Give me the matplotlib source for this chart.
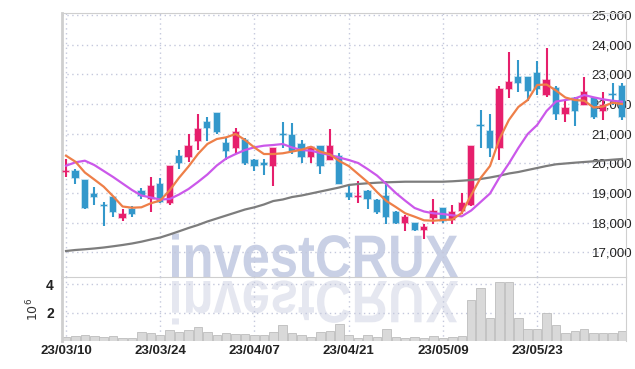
import matplotlib
matplotlib.use("Agg")
import matplotlib.pyplot as plt
import numpy as np
import pandas as pd
from matplotlib.textpath import TextPath
from matplotlib.font_manager import FontProperties
from matplotlib.patches import PathPatch
from matplotlib.transforms import Affine2D, IdentityTransform

# KRX trading days, 2023-03-10 .. 2023-06-07
holidays = ["2023-05-01", "2023-05-05", "2023-05-29", "2023-06-06"]
dates = pd.bdate_range("2023-03-10", "2023-06-07", freq="C", holidays=holidays)

opens = [19700, 19750, 19450, 18950, 18600, 18850, 18150, 18450, 19050, 18800,
         19300, 18650, 20250, 20200, 20750, 21400, 21700, 20700, 20500, 20800,
         20100, 20000, 19900, 21000, 20950, 20650, 20200, 20600, 20100, 20250,
         19000, 18850, 19050, 18750, 18900, 18350, 18000, 18000, 17750, 18150,
         18500, 18100, 18400, 18600, 21300, 21100, 20500, 22500, 22900, 22900,
         23050, 22300, 22550, 21650, 22200, 21950, 22200, 21750, 22350, 22600]
highs = [20150, 19800, 19450, 19200, 18700, 18850, 18450, 18550, 19150, 19550,
         19500, 19900, 20450, 21000, 21650, 21550, 21700, 20850, 21200, 20850,
         20150, 20150, 20500, 21400, 21350, 20800, 20600, 20600, 21150, 20350,
         19300, 19400, 19100, 18800, 19400, 18400, 18250, 18000, 17950, 18800,
         18500, 18600, 19000, 20600, 21800, 21650, 22600, 23750, 23500, 22900,
         23450, 23900, 22600, 22150, 22250, 22900, 22250, 22400, 22700, 22700]
lows = [19550, 19300, 18450, 18600, 17900, 18200, 18050, 18200, 18800, 18350,
        18650, 18600, 19800, 20050, 20450, 20750, 21000, 20100, 20350, 19950,
        19750, 19600, 19250, 20500, 20300, 20000, 20000, 19650, 20100, 19300,
        18750, 18650, 18450, 18300, 17950, 17950, 17700, 17700, 17450, 17950,
        18000, 17950, 18300, 18550, 20500, 20200, 20100, 22200, 22400, 22100,
        22300, 22250, 21450, 21400, 21250, 21950, 21500, 21450, 21950, 21450]
closes = [19750, 19500, 18500, 18850, 18550, 18350, 18300, 18300, 18900, 19250,
          18700, 19900, 20000, 20600, 21150, 21200, 21050, 20400, 21050, 20000,
          19900, 19950, 20500, 20950, 20400, 20200, 20550, 19900, 20600, 19300,
          18850, 18900, 18800, 18350, 18200, 18000, 18200, 17750, 17850, 18400,
          18050, 18350, 18650, 20600, 21250, 20500, 22500, 22750, 22700, 22450,
          22500, 22800, 21650, 21850, 21750, 22400, 21550, 21950, 22300, 21550]
volume = [260000, 330000, 400000, 330000, 260000, 330000, 190000, 190000, 610000, 560000,
          400000, 750000, 610000, 750000, 1010000, 610000, 400000, 560000, 490000, 490000,
          400000, 400000, 610000, 1100000, 540000, 400000, 260000, 610000, 680000, 1180000,
          400000, 190000, 400000, 260000, 820000, 260000, 190000, 260000, 190000, 330000,
          190000, 260000, 330000, 2870000, 3720000, 1600000, 4140000, 4200000, 1600000, 870000,
          870000, 2000000, 1100000, 560000, 680000, 820000, 560000, 560000, 560000, 680000]
ma5 = [20256, 20053, 19689, 19453, 19211, 18887, 18543, 18502, 18516, 18651,
       18745, 19089, 19514, 19892, 20313, 20650, 20819, 20876, 20988, 20785,
       20532, 20313, 20313, 20337, 20397, 20458, 20559, 20391, 20303, 20077,
       19909, 19639, 19369, 19032, 18728, 18526, 18313, 18199, 18077, 18064,
       18088, 18105, 18324, 18931, 19504, 19909, 20819, 21460, 21898, 22134,
       22640, 22657, 22454, 22218, 22134, 22110, 21881, 21915, 22043, 21999]
ma10 = [19918, 20033, 20087, 19942, 19740, 19537, 19318, 19099, 18914, 18846,
        18779, 18796, 18948, 19133, 19369, 19622, 19925, 20161, 20313, 20448,
        20539, 20593, 20617, 20650, 20532, 20448, 20424, 20347, 20279, 20195,
        20111, 20010, 19807, 19588, 19301, 18998, 18738, 18492, 18374, 18313,
        18290, 18246, 18212, 18408, 18695, 18981, 19521, 19993, 20513, 20988,
        21291, 21763, 22083, 22134, 22185, 22302, 22225, 22158, 22110, 22077]
ma60 = [17042, 17076, 17100, 17127, 17160, 17201, 17245, 17295, 17356, 17430,
        17498, 17599, 17707, 17818, 17919, 18037, 18138, 18239, 18340, 18442,
        18516, 18610, 18728, 18779, 18863, 18914, 18981, 19049, 19116, 19184,
        19268, 19301, 19325, 19345, 19359, 19369, 19379, 19379, 19379, 19379,
        19379, 19393, 19413, 19436, 19470, 19521, 19581, 19656, 19706, 19774,
        19841, 19909, 19966, 19993, 20020, 20044, 20067, 20094, 20121, 20145]

up_color = "#e61f6c"
down_color = "#3398cb"
grid_color = "#c4c8dc"
spine_color = "#cfcfcf"
font = ["Liberation Sans", "DejaVu Sans"]

o = np.array(opens)
h = np.array(highs)
l = np.array(lows)
c = np.array(closes)
x = np.arange(len(dates))
colors = np.where(c >= o, up_color, down_color)

fig = plt.figure(figsize=(6.35, 3.69), dpi=100)
ax = fig.add_axes([0.0976, 0.2493, 0.8882, 0.7168])
axv = fig.add_axes([0.0976, 0.0759, 0.8882, 0.1734], sharex=ax)
for a in (ax, axv):
    a.set_facecolor("none")
    a.grid(True, color=grid_color, linestyle=(0, (1, 2.5)), linewidth=1)
    a.set_axisbelow(True)
    for s in a.spines.values():
        s.set_color(spine_color)
    a.spines["left"].set_linewidth(2)

# candles
ax.vlines(x, l, h, colors=colors, linewidth=1.5, zorder=2)
body_low = np.minimum(o, c)
body_h = np.maximum(np.abs(c - o), 40)
ax.bar(x, body_h, bottom=body_low, width=0.66, color=colors,
       edgecolor=[(*matplotlib.colors.to_rgb(col), 0.35) for col in colors],
       linewidth=1.2, zorder=3)

# moving averages
ax.plot(x, ma60, color="#7d7d7d", linewidth=1.6, zorder=4)
ax.plot(x, ma10, color="#cb58ea", linewidth=1.6, zorder=4)
ax.plot(x, ma5, color="#ee7f48", linewidth=1.6, zorder=5)

ax.set_xlim(-0.43, len(x) - 0.57)
ax.set_ylim(16165, 25085)
price_ticks = list(range(17000, 25001, 1000))
ax.set_yticks(price_ticks, labels=[f"{v:,}" for v in price_ticks])
ax.yaxis.tick_right()
ax.tick_params(axis="y", length=0, pad=4.5, labelsize=9.5, labelcolor="#222222")
for t in ax.get_yticklabels():
    t.set_horizontalalignment("right")
    t.set_family(font)
ax.tick_params(axis="x", length=0, labelbottom=False)

tick_idx = x[::10]
ax.set_xticks(tick_idx)

# volume
axv.bar(x, np.array(volume) / 1e6, width=0.9, color="#d9d9d9",
        edgecolor="#bdbdbd", linewidth=0.6, zorder=2)
axv.set_ylim(0, 4.52)
axv.set_yticks([2, 4], labels=["2", "4"])
axv.tick_params(axis="y", length=0, pad=6, labelsize=10)
axv.set_xticks(tick_idx, labels=[dates[i].strftime("%y/%m/%d") for i in tick_idx])
axv.tick_params(axis="x", length=0, pad=3, labelsize=9.5)
for t in axv.get_xticklabels() + axv.get_yticklabels():
    t.set_family(font)
    t.set_fontweight("bold")
    t.set_color("#222222")
axv.set_ylabel("$10^6$", fontsize=9, labelpad=3, color="#333333")
axv.spines["top"].set_visible(False)
axv.spines["bottom"].set_visible(False)

# watermark with reflection
fp = FontProperties(family=font, weight="bold")
tp = TextPath((0, 0), "investCRUX", size=60, prop=fp)
ext = tp.get_extents()
sx = 286 / ext.width
mark = PathPatch(tp, transform=Affine2D().translate(-ext.x0, 0).scale(sx, 1).translate(172, 92)
                 + IdentityTransform(), facecolor="#c9d0e5", edgecolor="none", zorder=-1)
refl = PathPatch(tp, transform=Affine2D().translate(-ext.x0, 0).scale(sx, -1).translate(172, 88)
                 + IdentityTransform(), facecolor="#e5e7f0", edgecolor="none", zorder=-1)
fig.add_artist(mark)
fig.add_artist(refl)

fig.savefig("out.png", dpi=100)
